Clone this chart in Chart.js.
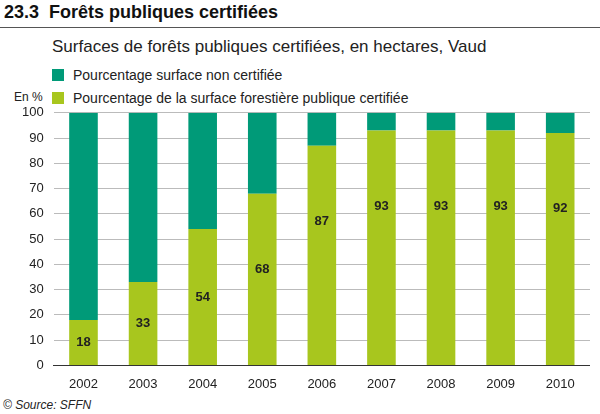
<!DOCTYPE html>
<html><head><meta charset="utf-8">
<script src="https://cdn.jsdelivr.net/npm/chart.js@4"></script>
<style>
body{margin:0;width:600px;height:414px;background:#fff;font-family:"Liberation Sans",Arial,sans-serif;position:relative;overflow:hidden}
#t{position:absolute;left:4px;top:2px;font-size:18px;font-weight:bold;color:#111}
#t span{margin-right:10px}
#rule{position:absolute;left:0;top:27px;width:600px;border-top:1px solid #555}
#sub{position:absolute;left:52px;top:37px;font-size:17px;color:#222}
.lg{position:absolute;left:52px;font-size:14px;color:#222}
.lg i{display:inline-block;width:12px;height:12px;margin-right:9px;vertical-align:-1px}
#en{position:absolute;left:14px;top:90px;font-size:12px;color:#222}
#src{position:absolute;left:3px;top:398px;font-size:12px;font-style:italic;color:#222}
#wrap{position:absolute;left:0;top:95px;width:590px;height:300px}
</style></head><body>
<div id="t"><span>23.3</span>Forêts publiques certifiées</div>
<div id="rule"></div>
<div id="sub">Surfaces de forêts publiques certifiées, en hectares, Vaud</div>
<div class="lg" style="top:67px"><i style="background:#009a78"></i>Pourcentage surface non certifiée</div>
<div class="lg" style="top:90px"><i style="background:#a8c61e"></i>Pourcentage de la surface forestière publique certifiée</div>
<div id="en">En %</div>
<div id="src">© Source: SFFN</div>
<div id="wrap"><canvas id="c"></canvas></div>
<script>
const years = ['2002','2003','2004','2005','2006','2007','2008','2009','2010'];
const certified = [18, 33, 54, 68, 87, 93, 93, 93, 92];
const nonCertified = certified.map(v => 100 - v);

// Étiquettes en gras dans la partie certifiée
const labelPlugin = {
  id: 'labels',
  afterDatasetsDraw(chart) {
    const ctx = chart.ctx, meta = chart.getDatasetMeta(0), y = chart.scales.y;
    ctx.save();
    ctx.font = 'bold 13px "Liberation Sans", Arial';
    ctx.fillStyle = '#222';
    ctx.textAlign = 'center';
    ctx.textBaseline = 'middle';
    certified.forEach((v, i) => {
      const pos = Math.max(v / 2, v - 30);
      ctx.fillText(v, meta.data[i].x, y.getPixelForValue(pos));
    });
    ctx.restore();
  }
};

new Chart(document.getElementById('c'), {
  type: 'bar',
  data: {
    labels: years,
    datasets: [
      { data: certified, backgroundColor: '#a8c61e', barPercentage: 0.48, categoryPercentage: 1 },
      { data: nonCertified, backgroundColor: '#009a78', barPercentage: 0.48, categoryPercentage: 1 },
    ],
  },
  options: {
    responsive: true, maintainAspectRatio: false, animation: false,
    layout: { padding: { left: 12, top: 6 } },
    plugins: { legend: { display: false }, tooltip: { enabled: false } },
    scales: {
      x: { stacked: true, grid: { display: false }, border: { color: '#333' },
           ticks: { color: '#222', font: { size: 13, family: 'Liberation Sans' } } },
      y: { stacked: true, min: 0, max: 100, grid: { color: '#bbb', drawTicks: false },
           border: { display: false },
           ticks: { stepSize: 10, color: '#222', padding: 10, font: { size: 13, family: 'Liberation Sans' } } },
    },
  },
  plugins: [labelPlugin],
});
</script>
</body></html>
